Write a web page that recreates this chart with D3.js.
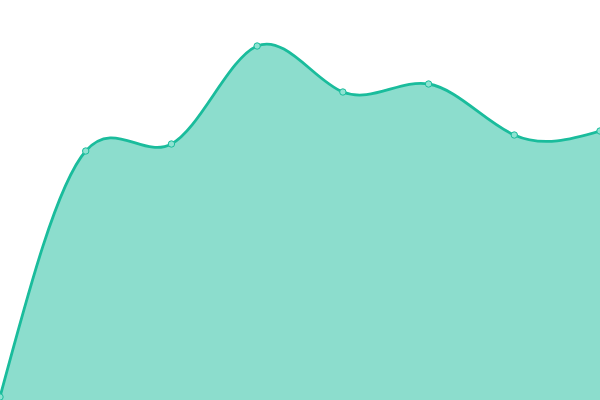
<!DOCTYPE html>
<html>
<head>
  <meta charset='utf-8'>
  <style>body { margin: 0; } svg { display: block; }</style>
  <script src='https://cdn.jsdelivr.net/npm/d3@7'></script>
</head>
<body>
  <script>
    let [width, height] = [600, 400]

    let labels = ['1', '2', '3', '4', '5', '6', '7', '8']
    let values = [3, 249, 256, 354, 308, 316, 265, 269]

    let x = d3.scalePoint(labels, [0, width])
    let y = d3.scaleLinear([0, 400], [height, 0])

    let svg = d3.select('body').append('svg')
      .attr('width', width)
      .attr('height', height)

    let curve = d3.curveNatural

    let area = d3.area()
      .x((d, i) => x(labels[i]))
      .y0(y(0) + 2)
      .y1(d => y(d))
      .curve(curve)

    let line = d3.line()
      .x((d, i) => x(labels[i]))
      .y(d => y(d))
      .curve(curve)

    svg.append('path')
      .datum(values)
      .attr('fill', '#1abc9c')
      .attr('fill-opacity', 0.5)
      .attr('d', area)

    svg.append('path')
      .datum(values)
      .attr('fill', 'none')
      .attr('stroke', '#1abc9c')
      .attr('stroke-width', 2.8)
      .attr('d', line)

    svg.selectAll('circle')
      .data(values)
      .join('circle')
      .attr('cx', (d, i) => x(labels[i]))
      .attr('cy', d => y(d))
      .attr('r', 3.2)
      .attr('fill', '#8ee3d2')
      .attr('stroke', '#1abc9c')
      .attr('stroke-width', 1)
  </script>
</body>
</html>
